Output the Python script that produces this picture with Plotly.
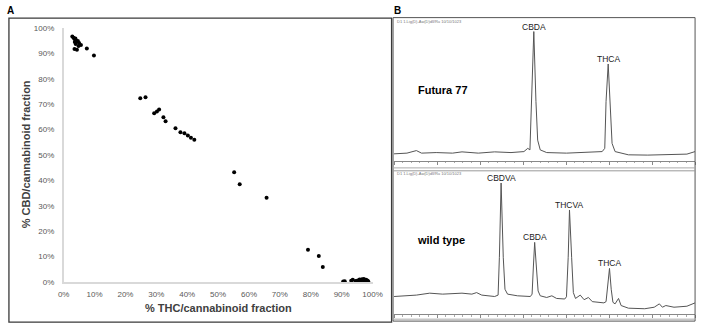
import plotly.graph_objects as go

W, H = 708, 330

# ---------------- Panel A data (fractions, %) ----------------
thc_pct = [2.8, 3.2, 3.5, 3.8, 4.0, 3.6, 4.3, 4.6, 3.9, 5.0, 5.6, 3.5, 4.3, 7.5, 9.8, 4.8,
           24.8, 26.5, 29.3, 30.2, 30.9, 32.3, 33.0, 36.2, 37.8, 39.1, 40.2, 41.2, 42.3,
           55.2, 57.0, 65.7, 79.1, 82.6, 83.9,
           90.5, 91.0, 93.1, 93.6, 94.5, 95.2, 95.8, 96.2, 96.6, 97.0, 97.4, 97.9, 98.3, 98.6, 95.5, 97.2]
cbd_pct = [96.8, 96.3, 95.8, 96.0, 95.2, 94.6, 94.8, 95.0, 93.8, 94.2, 93.4, 91.8, 91.5, 92.0, 89.3, 93.0,
           72.4, 72.8, 66.5, 67.2, 68.0, 64.9, 63.3, 60.6, 59.0, 58.6, 57.7, 56.8, 56.0,
           43.2, 38.5, 33.1, 12.6, 10.1, 5.8,
           0.1, 0.2, 0.4, 0.8, 0.3, 0.5, 0.9, 0.4, 1.0, 0.6, 0.3, 0.8, 0.5, 0.2, 0.1, 1.1]
pct_ticks = [0, 10, 20, 30, 40, 50, 60, 70, 80, 90, 100]
pct_tick_labels = ["0%", "10%", "20%", "30%", "40%", "50%", "60%", "70%", "80%", "90%", "100%"]

# ---------------- Panel B data (retention time, signal) ----------------
futura_t = [0.00, 0.30, 0.52, 0.64, 0.98, 1.36, 1.58, 1.96, 2.34, 2.72, 3.02, 3.11, 3.16,
            3.19, 3.25, 3.30, 3.34, 3.40, 3.55, 4.01, 4.46, 4.84, 4.90,
            4.93, 4.98, 5.02, 5.07, 5.14, 5.27, 5.45, 5.90, 6.36, 6.81, 7.00]
futura_s = [4.8, 5.3, 7.1, 5.3, 5.7, 5.3, 6.2, 5.3, 6.2, 5.7, 6.4, 8.7, 7.6,
            42.0, 91.5, 42.0, 14.5, 7.6, 5.7, 5.3, 5.7, 6.4, 8.7,
            42.0, 68.5, 42.0, 12.2, 6.4, 5.3, 4.1, 3.9, 4.1, 4.6, 6.4]

wild_t = [0.00, 0.30, 0.52, 0.83, 1.13, 1.58, 1.81, 1.92, 2.04, 2.34, 2.42,
          2.45, 2.49, 2.54, 2.58, 2.64, 2.87, 3.17,
          3.21, 3.24, 3.27, 3.31, 3.35, 3.40, 3.55, 3.67, 3.78, 3.97,
          4.01, 4.05, 4.08, 4.13, 4.17, 4.22, 4.33, 4.42, 4.52, 4.61, 4.77, 4.88, 4.93,
          4.96, 5.01, 5.05, 5.09, 5.14, 5.22, 5.28, 5.45, 5.83, 6.05, 6.17, 6.24, 6.32,
          6.51, 6.81, 7.00]
wild_s = [12.8, 13.3, 13.8, 15.2, 14.5, 15.2, 14.5, 15.6, 13.8, 12.8, 13.8,
          41.0, 94.4, 41.0, 18.0, 14.5, 13.3, 12.8,
          14.5, 34.0, 51.7, 34.0, 16.8, 13.3, 12.1, 13.3, 11.4, 11.0,
          12.6, 41.0, 75.0, 41.0, 15.6, 11.4, 13.8, 10.5, 12.1, 9.1, 8.6, 8.2, 9.1,
          18.0, 33.0, 18.0, 8.6, 7.5, 11.4, 6.3, 4.4, 4.0, 5.1, 7.5, 5.1, 6.3,
          5.1, 5.8, 8.2]

futura_peaks = ["CBDA", "THCA"]
futura_peak_t = [3.25, 4.98]
futura_peak_s = [91.5, 68.5]
wild_peaks = ["CBDVA", "CBDA", "THCVA", "THCA"]
wild_peak_t = [2.49, 3.27, 4.08, 5.01]
wild_peak_s = [94.4, 51.7, 75.0, 33.0]


def px(x):
    return x / W


def py(y):
    return 1 - y / H


FONT = "Liberation Sans, Arial, sans-serif"

fig = go.Figure()

fig.add_trace(go.Scatter(
    x=thc_pct, y=cbd_pct, mode="markers",
    marker=dict(color="black", size=4),
    cliponaxis=False, xaxis="x", yaxis="y", showlegend=False))

fig.add_trace(go.Scatter(
    x=futura_t, y=futura_s, mode="lines",
    line=dict(color="#555555", width=1),
    xaxis="x2", yaxis="y2", showlegend=False))

fig.add_trace(go.Scatter(
    x=wild_t, y=wild_s, mode="lines",
    line=dict(color="#555555", width=1),
    xaxis="x3", yaxis="y3", showlegend=False))

ann = []
for name, t, s in zip(futura_peaks, futura_peak_t, futura_peak_s):
    ann.append(dict(x=t, y=s, xref="x2", yref="y2", text=name, showarrow=False,
                    xanchor="center", yanchor="bottom", yshift=-2,
                    font=dict(family=FONT, size=8.5, color="#222222")))
for name, t, s in zip(wild_peaks, wild_peak_t, wild_peak_s):
    ann.append(dict(x=t, y=s, xref="x3", yref="y3", text=name, showarrow=False,
                    xanchor="center", yanchor="bottom", yshift=-2,
                    font=dict(family=FONT, size=8.5, color="#222222")))

ann += [
    dict(x=px(5), y=py(7), xref="paper", yref="paper", text="<b>A</b>", showarrow=False,
         xanchor="center", yanchor="middle", font=dict(family=FONT, size=10, color="black")),
    dict(x=px(401), y=py(7), xref="paper", yref="paper", text="<b>B</b>", showarrow=False,
         xanchor="center", yanchor="middle", font=dict(family=FONT, size=10, color="black")),
    dict(x=px(217), y=py(313), xref="paper", yref="paper", text="<b>% THC/cannabinoid fraction</b>",
         showarrow=False, xanchor="center", yanchor="middle",
         font=dict(family=FONT, size=11, color="#404040")),
    dict(x=px(20), y=py(155), xref="paper", yref="paper", text="<b>% CBD/cannabinoid fraction</b>",
         showarrow=False, xanchor="center", yanchor="middle", textangle=-90,
         font=dict(family=FONT, size=11, color="#404040")),
    dict(x=px(419), y=py(88), xref="paper", yref="paper", text="<b>Futura 77</b>",
         showarrow=False, xanchor="left", yanchor="middle",
         font=dict(family=FONT, size=11, color="black")),
    dict(x=px(418), y=py(243), xref="paper", yref="paper", text="<b>wild type</b>",
         showarrow=False, xanchor="left", yanchor="middle",
         font=dict(family=FONT, size=11, color="black")),
    dict(x=px(398), y=py(18), xref="paper", yref="paper", text="D1 1.Lig(D)-Aw(D)dll/Ru 10/10/1023",
         showarrow=False, xanchor="left", yanchor="middle",
         font=dict(family=FONT, size=4, color="#777777")),
    dict(x=px(398), y=py(174), xref="paper", yref="paper", text="D1 1.Lig(D)-Aw(D)dll/Ru 10/10/1023",
         showarrow=False, xanchor="left", yanchor="middle",
         font=dict(family=FONT, size=4, color="#777777")),
]

shapes = [
    # panel A frame
    dict(type="rect", xref="paper", yref="paper", x0=px(3), x1=px(394.5), y0=py(327), y1=py(14.5),
         line=dict(color="#3a3a3a", width=1.3)),
    # panel B frame
    dict(type="rect", xref="paper", yref="paper", x0=px(396), x1=px(705), y0=py(326), y1=py(14),
         line=dict(color="#555555", width=1)),
    # separator between chromatograms
    dict(type="line", xref="paper", yref="paper", x0=px(396), x1=px(705), y0=py(171.5), y1=py(171.5),
         line=dict(color="#999999", width=1)),
    # ruler lower lines
    dict(type="line", xref="paper", yref="paper", x0=px(396), x1=px(705), y0=py(168.5), y1=py(168.5),
         line=dict(color="#aaaaaa", width=1)),
    dict(type="line", xref="paper", yref="paper", x0=px(396), x1=px(705), y0=py(324), y1=py(324),
         line=dict(color="#aaaaaa", width=1)),
]

ruler = dict(range=[0, 7], showline=True, linecolor="#888888", linewidth=1,
             ticks="outside", ticklen=3, tickcolor="#888888", dtick=1, tick0=0,
             minor=dict(dtick=0.2, ticklen=1.5, tickcolor="#aaaaaa", ticks="outside"),
             showticklabels=False, showgrid=False, zeroline=False, fixedrange=True)

fig.update_layout(
    width=W, height=H, autosize=False,
    margin=dict(l=0, r=0, t=0, b=0),
    paper_bgcolor="white", plot_bgcolor="white",
    showlegend=False,
    font=dict(family=FONT),
    xaxis=dict(domain=[px(59), px(375)], range=[0, 100], anchor="y",
               tickvals=pct_ticks, ticktext=pct_tick_labels,
               showline=True, linecolor="#d9d9d9", linewidth=1.5,
               ticks="", ticklabelstandoff=4,
               tickfont=dict(family=FONT, size=8, color="#595959"),
               showgrid=False, zeroline=False),
    yaxis=dict(domain=[py(285.5), py(25)], range=[0, 100], anchor="x",
               tickvals=pct_ticks, ticktext=pct_tick_labels,
               showline=True, linecolor="#d9d9d9", linewidth=1.5,
               ticks="", ticklabelstandoff=6,
               tickfont=dict(family=FONT, size=8, color="#595959"),
               showgrid=False, zeroline=False),
    xaxis2=dict(domain=[px(397), px(705)], anchor="y2", **ruler),
    yaxis2=dict(domain=[py(161), py(16)], range=[0, 100], anchor="x2", visible=False),
    xaxis3=dict(domain=[px(397), px(705)], anchor="y3", **ruler),
    yaxis3=dict(domain=[py(319), py(176)], range=[0, 100], anchor="x3", visible=False),
    annotations=ann,
    shapes=shapes,
)

fig.write_html(
    "out.html",
    config={"displayModeBar": False},
    post_script="document.body.style.margin='0';document.body.style.overflow='hidden';",
)
